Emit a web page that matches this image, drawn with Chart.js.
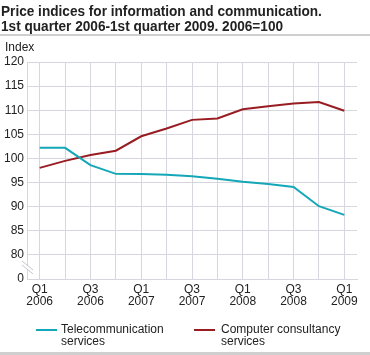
<!DOCTYPE html>
<html>
<head>
<meta charset="utf-8">
<script src="https://cdn.jsdelivr.net/npm/chart.js@4"></script>
<style>
  html, body { margin: 0; padding: 0; background: #fff; }
  #wrap { position: relative; width: 370px; height: 355px; overflow: hidden; font-family: "Liberation Sans", Arial, sans-serif; color: #222; }
  #title { position: absolute; left: 1px; top: 2.5px; font-weight: bold; font-size: 15px; line-height: 15px; color: #222; white-space: nowrap; transform: scaleX(0.908); transform-origin: 0 0; }
  #sep1 { position: absolute; left: 0; top: 34px; width: 370px; height: 2px; background: #cfcfcf; }
  #sep2 { position: absolute; left: 0; top: 352px; width: 370px; height: 3px; background: #cfcfcf; }
  #ylab { position: absolute; left: 5px; top: 40px; font-size: 12px; }
  canvas { position: absolute; left: 0; top: 0; }
  .leg { position: absolute; font-size: 12px; line-height: 12px; }
  .sw { position: absolute; width: 21px; height: 2px; }
</style>
</head>
<body>
<div id="wrap">
  <canvas id="c" width="370" height="355"></canvas>
  <div id="title">Price indices for information and communication.<br>1st quarter 2006-1st quarter 2009. 2006=100</div>
  <div id="sep1"></div>
  <div id="ylab">Index</div>
  <div class="sw" style="left:36px; top:329px; background:#13a7b8;"></div>
  <div class="leg" style="left:61px; top:323px;">Telecommunication<br>services</div>
  <div class="sw" style="left:194px; top:329px; background:#981c22;"></div>
  <div class="leg" style="left:221px; top:323px;">Computer consultancy<br>services</div>
  <div id="sep2"></div>
</div>
<script>
const quarters = ["Q1 2006","Q2 2006","Q3 2006","Q4 2006","Q1 2007","Q2 2007","Q3 2007","Q4 2007","Q1 2008","Q2 2008","Q3 2008","Q4 2008","Q1 2009"];
const tickLabels = [["Q1","2006"],"",["Q3","2006"],"",["Q1","2007"],"",["Q3","2007"],"",["Q1","2008"],"",["Q3","2008"],"",["Q1","2009"]];
const telecom = [102.2, 102.2, 98.6, 96.8, 96.75, 96.6, 96.3, 95.8, 95.15, 94.7, 94.1, 90.1, 88.3];
const consultancy = [98.05, 99.5, 100.7, 101.6, 104.6, 106.2, 108.0, 108.3, 110.2, 110.8, 111.4, 111.7, 109.9];
const yTicks = [0, 80, 85, 90, 95, 100, 105, 110, 115, 120];

const gridColor = '#d6d6de';

const breakPlugin = {
  id: 'axisBreak',
  afterDraw(chart) {
    const ctx = chart.ctx;
    const x = chart.scales.x.left;
    const y = chart.scales.y.getPixelForValue(77.5);
    ctx.save();
    ctx.strokeStyle = '#ffffff';
    ctx.lineWidth = 3;
    ctx.beginPath();
    ctx.moveTo(x - 5, y - 3.5);
    ctx.lineTo(x + 6, y + 5.5);
    ctx.stroke();
    ctx.strokeStyle = '#c4c4cc';
    ctx.lineWidth = 1;
    for (const d of [-2, 2]) {
      ctx.beginPath();
      ctx.moveTo(x - 5, y - 4 + d);
      ctx.lineTo(x + 6, y + 5 + d);
      ctx.stroke();
    }
    ctx.restore();
  }
};

new Chart(document.getElementById('c'), {
  type: 'line',
  data: {
    labels: quarters,
    datasets: [
      { label: 'Telecommunication services', data: telecom, borderColor: '#13a7b8', borderWidth: 2, pointRadius: 0, tension: 0, fill: false },
      { label: 'Computer consultancy services', data: consultancy, borderColor: '#981c22', borderWidth: 2, pointRadius: 0, tension: 0, fill: false }
    ]
  },
  options: {
    responsive: false,
    devicePixelRatio: 1,
    animation: false,
    layout: { padding: { top: 62, left: 0, right: 13, bottom: 46 } },
    plugins: { legend: { display: false }, tooltip: { enabled: false }, title: { display: false } },
    scales: {
      x: {
        offset: true,
        grid: { color: gridColor, drawTicks: false, offset: false },
        border: { color: gridColor },
        afterFit(s) { s.height = 30; },
        ticks: {
          autoSkip: false, maxRotation: 0, padding: 5,
          color: '#222', font: { family: '"Liberation Sans", Arial, sans-serif', size: 12, lineHeight: 1.0 },
          callback: (v, i) => tickLabels[i]
        }
      },
      y: {
        min: 75, max: 120,
        afterFit(s) { s.width = 27; },
        afterBuildTicks(s) { s.ticks = yTicks.map(v => ({ value: v === 0 ? 75 : v })); },
        grid: { color: gridColor, drawTicks: false },
        border: { color: gridColor },
        ticks: {
          padding: 3, color: '#222',
          font: { family: '"Liberation Sans", Arial, sans-serif', size: 12 },
          callback: v => v === 75 ? '0' : String(v)
        }
      }
    }
  },
  plugins: [breakPlugin]
});
</script>
</body>
</html>
